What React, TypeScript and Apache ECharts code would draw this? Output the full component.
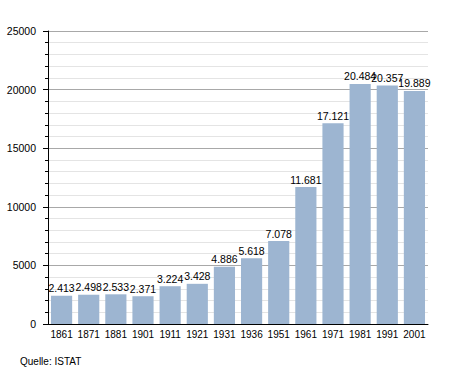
import React, { useEffect, useRef } from "react";
import * as echarts from "echarts";

const categories = ["1861", "1871", "1881", "1901", "1911", "1921", "1931", "1936", "1951", "1961", "1971", "1981", "1991", "2001"];
const population = [2413, 2498, 2533, 2371, 3224, 3428, 4886, 5618, 7078, 11681, 17121, 20484, 20357, 19889];
const yTicks = [0, 5000, 10000, 15000, 20000, 25000];
const sourceText = "Quelle: ISTAT";

const FONT = "'Liberation Sans', Arial, sans-serif";

export default function App() {
  const ref = useRef<HTMLDivElement>(null);
  useEffect(() => {
    if (!ref.current) return;
    const chart = echarts.init(ref.current, null, { renderer: "svg" });
    chart.setOption({
      animation: false,
      backgroundColor: "#ffffff",
      grid: { left: 48, right: 27, top: 31, bottom: 49, containLabel: false },
      xAxis: {
        type: "category",
        data: categories,
        axisLine: { show: true, lineStyle: { color: "#000", width: 1 } },
        axisTick: { show: false },
        axisLabel: { color: "#000", fontFamily: FONT, fontSize: 10, margin: 5, interval: 0 },
      },
      yAxis: {
        type: "value",
        min: yTicks[0],
        max: yTicks[yTicks.length - 1],
        interval: 5000,
        axisLine: { show: true, lineStyle: { color: "#000", width: 1 } },
        axisTick: { show: true, length: 5, lineStyle: { color: "#000" } },
        minorTick: { show: true, splitNumber: 5, length: 3, lineStyle: { color: "#000" } },
        splitLine: { show: true, lineStyle: { color: "#a8a8a8", width: 1 } },
        minorSplitLine: { show: true, lineStyle: { color: "#e4e4e4", width: 1 } },
        axisLabel: {
          color: "#000",
          fontFamily: FONT,
          fontSize: 10.5,
          margin: 12,
          formatter: (v: number) => String(v),
        },
      },
      series: [
        {
          type: "bar",
          data: population,
          barCategoryGap: "22%",
          itemStyle: { color: "#9db5d1" },
          label: {
            show: true,
            position: "top",
            distance: 2,
            color: "#000",
            fontFamily: FONT,
            fontSize: 10.5,
            formatter: (p: any) => (p.value / 1000).toFixed(3),
          },
        },
      ],
      graphic: [
        {
          type: "text",
          left: 20,
          top: 356,
          style: { text: sourceText, fill: "#000", font: `10px ${FONT}` },
        },
      ],
    });
    return () => chart.dispose();
  }, []);
  return <div ref={ref} style={{ width: 455, height: 373, position: "absolute", left: 0, top: 0 }} />;
}
